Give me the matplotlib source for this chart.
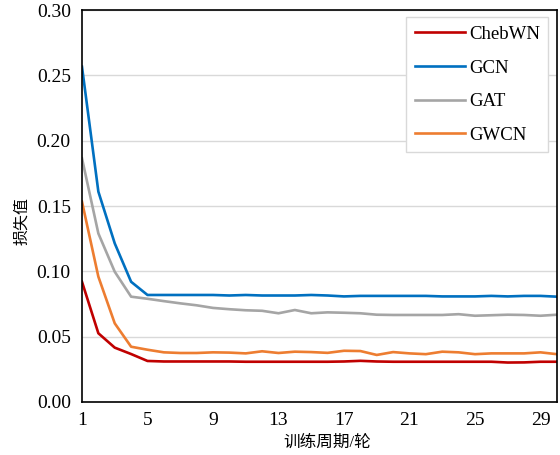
import numpy as np
import matplotlib.pyplot as plt

plt.rcParams['font.family'] = ['Liberation Serif', 'Noto Sans CJK SC']

epochs = list(range(1, 31))
chebwn = [0.092, 0.0526, 0.0416, 0.0367, 0.0314, 0.031, 0.031, 0.031, 0.031, 0.031,
          0.0308, 0.0308, 0.0308, 0.0308, 0.0308, 0.0308, 0.031, 0.0315, 0.031, 0.0308,
          0.0308, 0.0308, 0.0308, 0.0308, 0.0308, 0.0308, 0.0302, 0.0303, 0.0308, 0.0308]
gcn = [0.2566, 0.161, 0.1214, 0.092, 0.0819, 0.0819, 0.0819, 0.0819, 0.0819, 0.0815,
       0.0819, 0.0815, 0.0815, 0.0815, 0.0819, 0.0815, 0.0808, 0.0812, 0.0812, 0.0812,
       0.0812, 0.0812, 0.0808, 0.0808, 0.0808, 0.0812, 0.0808, 0.0812, 0.0812, 0.0806]
gat = [0.1865, 0.129, 0.0997, 0.0806, 0.079, 0.0772, 0.0755, 0.074, 0.072, 0.071,
       0.0702, 0.0698, 0.0679, 0.0704, 0.0679, 0.0686, 0.0683, 0.0679, 0.0668, 0.0666,
       0.0666, 0.0666, 0.0666, 0.0672, 0.066, 0.0664, 0.0668, 0.0666, 0.066, 0.0668]
gwcn = [0.1533, 0.0959, 0.0602, 0.0423, 0.040, 0.038, 0.0375, 0.0375, 0.038, 0.0378,
        0.0372, 0.0388, 0.0375, 0.0385, 0.0382, 0.0376, 0.0392, 0.039, 0.036, 0.0382,
        0.0372, 0.0366, 0.0385, 0.038, 0.0366, 0.0372, 0.0372, 0.0372, 0.038, 0.0366]

series = [('ChebWN', chebwn, '#C00000'),
          ('GCN', gcn, '#0070C0'),
          ('GAT', gat, '#A5A5A5'),
          ('GWCN', gwcn, '#ED7D31')]

fig = plt.figure(figsize=(5.6, 4.55), dpi=100)
ax = fig.add_axes([0.1464, 0.1165, 0.848, 0.8615])

for name, vals, col in series:
    ax.plot(epochs, vals, color=col, lw=1.9, label=name)

ax.set_xlim(1, 30)
ax.set_ylim(0, 0.30)
ax.set_xticks(range(1, 30, 4))
ax.set_yticks(np.arange(0, 0.31, 0.05))
ax.set_yticklabels(['%.2f' % v for v in np.arange(0, 0.31, 0.05)])
ax.yaxis.grid(True, color='#D9D9D9', lw=1)
ax.set_axisbelow(True)
ax.tick_params(length=0, labelsize=14, pad=8)
ax.tick_params(axis='x', pad=7)
for s in ax.spines.values():
    s.set_linewidth(1.2)

# axis titles placed by hand, centred on their anchor points
ax.set_xlabel('训练周期/轮', fontsize=12)
ax.xaxis.set_label_coords(0.517, -0.105)
ax.xaxis.label.set_va('center')
ax.set_ylabel('损失值', fontsize=11.5)
ax.yaxis.set_label_coords(-0.125, 0.462)
ax.yaxis.label.set_va('center')

leg = ax.legend(loc='upper right', bbox_to_anchor=(0.982, 0.981), fontsize=13.5,
                handlelength=2.7, labelspacing=0.885, borderpad=0.44, borderaxespad=0,
                fancybox=False, framealpha=1, edgecolor='#D9D9D9', handletextpad=0.2)
leg.get_frame().set_linewidth(1)

fig.savefig('out.png', dpi=100)
